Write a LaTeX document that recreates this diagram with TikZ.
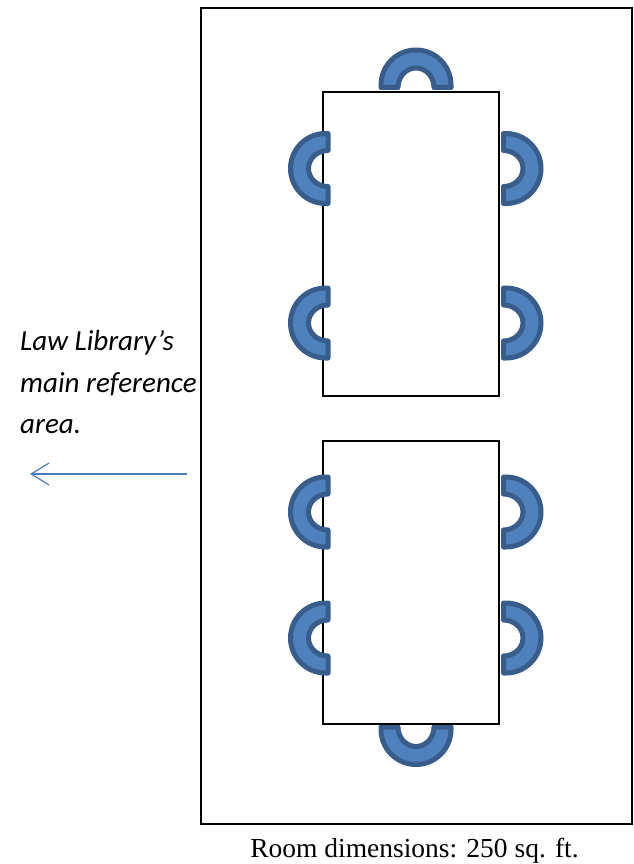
\documentclass[tikz,border=0pt]{standalone}
\usepackage{fontspec}
\setmainfont{Liberation Serif}
\newfontfamily\labelfont{Carlito}
\usetikzlibrary{arrows.meta}
\tikzset{
  wall/.style={draw=black,line width=1.6pt},
  chairshape/.style={draw=chairedge,fill=chairfill,line width=5pt,line join=round},
  chair/.pic={
    \draw [chairshape] (-35,-2.5) -- (-35,0) arc (180:0:35) -- (35,-2.5) -- (18,-2.5) arc [start angle=0,end angle=180,x radius=18,y radius=19.5] -- cycle;
  },
  areatext/.style={anchor=base west,inner sep=0pt,font=\labelfont\itshape\fontsize{29}{29}\selectfont},
  roomtext/.style={anchor=base,inner sep=0pt,font=\fontsize{27.5}{27.5}\selectfont}
}
\definecolor{chairfill}{HTML}{4F81BD}
\definecolor{chairedge}{HTML}{385D8A}
\definecolor{arrowblue}{HTML}{4A7EBB}
\begin{document}
\begin{tikzpicture}[x=1pt,y=1pt]
\useasboundingbox (0,0) rectangle (633,-864);
% room
\draw [wall] (201,-8) rectangle (632,-824);
% bottom chair, under the table line
\pic [rotate=180] at (416,-729.5) {chair};
% tables
\draw [wall] (323,-92) rectangle (499,-396);
\draw [wall] (323,-441) rectangle (499,-724);
% chairs
\pic at (416,-85) {chair};
\pic [rotate=90] at (325.5,-168.5) {chair};
\pic [rotate=90] at (325.5,-323) {chair};
\pic [rotate=90] at (325.5,-512) {chair};
\pic [rotate=90] at (325.5,-638) {chair};
\pic [rotate=-90] at (506,-168.5) {chair};
\pic [rotate=-90] at (506,-323) {chair};
\pic [rotate=-90] at (506,-512) {chair};
\pic [rotate=-90] at (506,-638) {chair};
% labels
\node [areatext] (lawlib) at (20,-350.5) {Law Library’s};
\node [areatext] (mainref) at (20,-392) {main reference};
\node [areatext] (area) at (20,-433) {area.};
\node [roomtext] (dims) at (414.5,-857) {Room dimensions: 250 sq. ft.};
% arrow
\coordinate (arrowstart) at (187,-474);
\coordinate (arrowend) at (30,-474);
\draw [arrowblue,line width=1.2pt,-{Straight Barb[length=18pt,width=22pt]}] (arrowstart) -- (arrowend);
\end{tikzpicture}
\end{document}
